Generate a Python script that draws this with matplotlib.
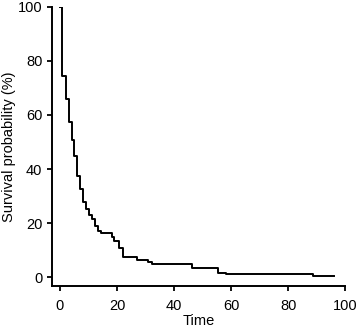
import numpy as np
import matplotlib
matplotlib.use('Agg')
import matplotlib.pyplot as plt

plt.rcParams['font.family'] = ['Liberation Sans', 'DejaVu Sans']

# step times (drop points) and survival level after each drop
times = [0, 0.7, 2.3, 3.3, 4.1, 5.0, 6.1, 7.0, 8.1, 9.2, 10.1, 11.2, 12.3, 13.3,
         14.4, 18.2, 19.0, 20.6, 22.0, 26.9, 31.0, 32.2, 46.2, 55.3, 58.1, 88.9, 96.1]
surv = [100, 74.5, 65.8, 57.3, 50.6, 44.9, 37.5, 32.5, 27.7, 25.1, 22.8, 21.5, 18.8, 17.0,
        16.3, 14.7, 13.2, 10.6, 7.5, 6.5, 5.5, 4.9, 3.3, 1.6, 1.0, 0.4, 0.4]

fig = plt.figure(figsize=(3.58, 3.31), dpi=100)
ax = fig.add_axes([0.145, 0.136, 0.819, 0.843])

ax.step(times, surv, where='post', color='black', lw=1.4)

ax.set_xlim(-2.8, 100)
ax.set_ylim(-3.3, 100)
ax.set_xticks(np.arange(0, 101, 20))
ax.set_yticks(np.arange(0, 101, 20))
ax.spines['top'].set_visible(False)
ax.spines['right'].set_visible(False)
for s in ['left', 'bottom']:
    ax.spines[s].set_linewidth(1.4)
ax.tick_params(direction='out', length=3.8, width=1.3, labelsize=10.5, pad=3)
ax.tick_params(axis='x', pad=5.5)
ax.set_xlabel('Time', fontsize=10.5, labelpad=0.5)
ax.set_ylabel('Survival probability (%)', fontsize=10.5, labelpad=1.5)

fig.savefig('out.png', dpi=100)
